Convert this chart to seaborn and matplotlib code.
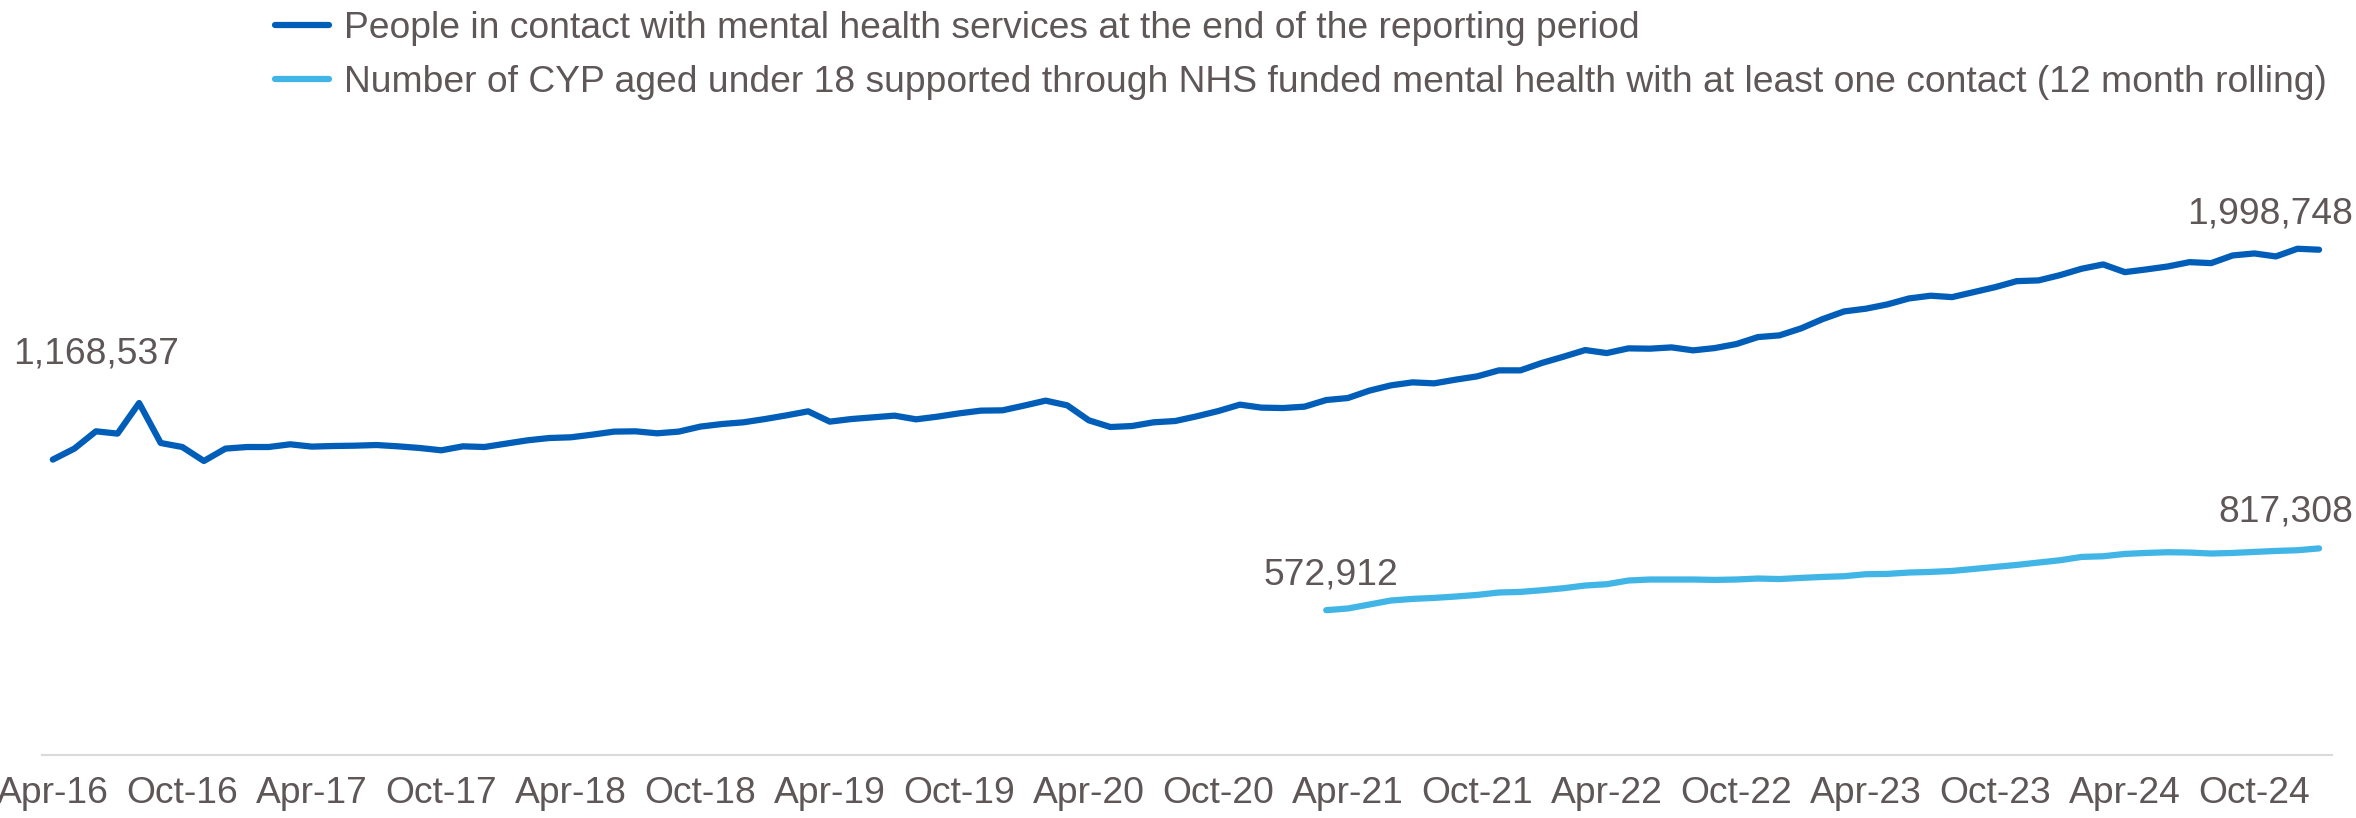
import numpy as np
import pandas as pd
import matplotlib
matplotlib.use("Agg")
import matplotlib.pyplot as plt
import seaborn as sns

# monthly series, Apr-16 .. Jan-25
months = pd.date_range("2016-04-01", "2025-01-01", freq="MS").strftime("%b-%y").tolist()

people_in_contact = [
    1168537, 1212000, 1280400, 1271300, 1392300, 1234200, 1218300, 1163000, 1212000, 1218300,
    1218300, 1229000, 1219900, 1222300, 1223600, 1226200, 1221000, 1214400, 1205300, 1221000,
    1218300, 1231700, 1244800, 1253900, 1256700, 1267300, 1279200, 1280400, 1272500, 1279200,
    1299000, 1309200, 1316000, 1329000, 1343600, 1359400, 1318700, 1329000, 1335700, 1342400,
    1327800, 1338500, 1351500, 1362200, 1363400, 1382000, 1401700, 1383200, 1323900, 1297400,
    1301300, 1316000, 1321100, 1339700, 1360600, 1385900, 1374100, 1372500, 1378000, 1404100,
    1412000, 1441300, 1462200, 1474100, 1470100, 1484800, 1497800, 1521500, 1521500, 1551000,
    1575700, 1601800, 1589900, 1608500, 1607300, 1612400, 1600600, 1609700, 1625500, 1653100,
    1659900, 1687500, 1724300, 1754700, 1765400, 1782400, 1806000, 1816800, 1811300, 1831000,
    1850800, 1874500, 1877300, 1898200, 1923500, 1940500, 1910100, 1920800, 1932600, 1949600,
    1945700, 1976100, 1984000, 1972200, 2002600, 1998748,
]

# CYP series starts Mar-21
cyp_start = "Mar-21"
cyp_supported = [
    572912, 579500, 595300, 611100, 617500, 621400, 626900, 633300, 642800, 645100,
    651900, 659800, 670400, 675600, 690200, 694200, 694200, 694200, 692600, 694200,
    698100, 696000, 700500, 704400, 707200, 715100, 716300, 721800, 724200, 728100,
    736000, 744000, 751900, 761300, 770400, 783500, 786200, 795300, 799300, 802100,
    800900, 796900, 799300, 803300, 807200, 810000, 817308,
]

tick_labels = ["Apr-16", "Oct-16", "Apr-17", "Oct-17", "Apr-18", "Oct-18", "Apr-19",
               "Oct-19", "Apr-20", "Oct-20", "Apr-21", "Oct-21", "Apr-22", "Oct-22",
               "Apr-23", "Oct-23", "Apr-24", "Oct-24"]

label_people = "People in contact with mental health services at the end of the reporting period"
label_cyp = ("Number of CYP aged under 18 supported through NHS funded mental health "
             "with at least one contact (12 month rolling)")

df = pd.DataFrame({"month": months, "people": people_in_contact})
df["pos"] = np.arange(len(df))
start = months.index(cyp_start)
df["cyp"] = [np.nan] * start + cyp_supported

sns.set_style("white")
plt.rcParams["font.family"] = ["Liberation Sans", "DejaVu Sans"]
text_color = "#5E5657"
dark_blue = "#005EB8"
light_blue = "#41B6E6"
fs = 26.8

fig = plt.figure(figsize=(23.56, 8.18), dpi=100)
ax = fig.add_axes([42 / 2356, 1 - 755 / 818, (2332 - 42) / 2356, 632 / 818])

sns.lineplot(data=df, x="pos", y="people", ax=ax, color=dark_blue, linewidth=4.5,
             label=label_people)
sns.lineplot(data=df.dropna(), x="pos", y="cyp", ax=ax, color=light_blue, linewidth=4.5,
             label=label_cyp)
for ln in ax.get_lines():
    ln.set_solid_capstyle("round")
    ln.set_solid_joinstyle("round")

ax.set_xlim(-0.5, 105.6)
ax.set_ylim(0, 2500000)
ax.set_xticks(range(0, len(months), 6))
ax.set_xticklabels(tick_labels)
ax.set_yticks([])
ax.set_xlabel("")
ax.set_ylabel("")
ax.tick_params(axis="x", length=0, pad=15, labelsize=fs, labelcolor=text_color)
for s in ["top", "right", "left"]:
    ax.spines[s].set_visible(False)
ax.spines["bottom"].set_color("#D9D9D9")
ax.spines["bottom"].set_linewidth(1.5)

# data labels at first and last points
n = len(df)
ax.annotate(f"{people_in_contact[0]:,}", (0, people_in_contact[0]), xytext=(43, 96),
            textcoords="offset pixels", ha="center", va="baseline", fontsize=fs, color=text_color)
ax.annotate(f"{people_in_contact[-1]:,}", (n - 1, people_in_contact[-1]), xytext=(-49, 26),
            textcoords="offset pixels", ha="center", va="baseline", fontsize=fs, color=text_color)
ax.annotate(f"{cyp_supported[0]:,}", (start, cyp_supported[0]), xytext=(5, 26),
            textcoords="offset pixels", ha="center", va="baseline", fontsize=fs, color=text_color)
ax.annotate(f"{cyp_supported[-1]:,}", (n - 1, cyp_supported[-1]), xytext=(-33, 27),
            textcoords="offset pixels", ha="center", va="baseline", fontsize=fs, color=text_color)

leg = ax.legend(loc="upper left", bbox_to_anchor=(275 / 2356, 1 - 11 / 818),
                bbox_transform=fig.transFigure, frameon=False, fontsize=fs,
                handlelength=1.45, handletextpad=0.4, labelspacing=0.5,
                borderpad=0, borderaxespad=0)
for t in leg.get_texts():
    t.set_color(text_color)

fig.savefig("out.png", dpi=100)
